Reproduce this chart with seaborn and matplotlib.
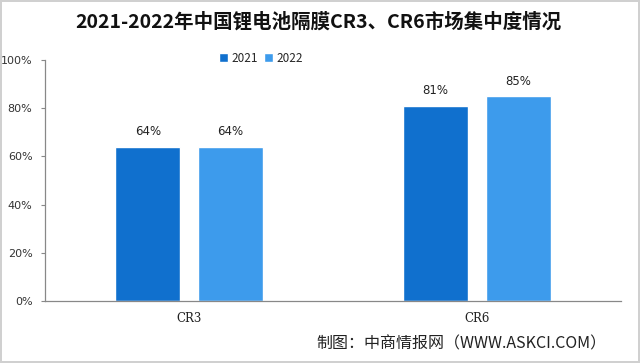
import matplotlib
matplotlib.use("Agg")
import matplotlib.pyplot as plt
import seaborn as sns
import pandas as pd
from matplotlib.ticker import FixedLocator

categories = ["CR3", "CR6"]
years = ["2021", "2022"]
values_2021 = [64, 81]
values_2022 = [64, 85]
yticks = [0, 20, 40, 60, 80, 100]
ytick_labels = ["0%", "20%", "40%", "60%", "80%", "100%"]
title = "2021-2022年中国锂电池隔膜CR3、CR6市场集中度情况"
source = "制图：中商情报网（WWW.ASKCI.COM）"
colors = ["#1070CE", "#3D9BEC"]

df = pd.DataFrame({
    "cat": categories * 2,
    "year": [years[0]] * 2 + [years[1]] * 2,
    "val": values_2021 + values_2022,
})

sns.set_theme(style="white")
plt.rcParams["font.family"] = ["Noto Sans CJK SC", "DejaVu Sans"]

fig = plt.figure(figsize=(6.4, 3.63), dpi=100)
fig.patch.set_edgecolor("#d0d0d0")
fig.patch.set_linewidth(1.5)
ax = fig.add_axes([45 / 640, 1 - 301 / 363, 576 / 640, 241 / 363])

sns.barplot(data=df, x="cat", y="val", hue="year", palette=colors,
            width=0.573, gap=0.21, ax=ax, saturation=1, legend=True)

for cont in ax.containers:
    ax.bar_label(cont, labels=[f"{v:.0f}%" for v in cont.datavalues],
                 padding=6, fontsize=8.5, family=["DejaVu Sans"], color="#222222")

ax.set_xlim(-0.5, 1.5)
ax.set_ylim(0, 100)
ax.set_yticks(yticks)
ax.set_yticklabels(ytick_labels, fontsize=8, family=["DejaVu Sans"], color="#333333")
ax.set_xticks([0, 1])
ax.set_xticklabels(categories, fontsize=8.5, family=["DejaVu Serif"], color="#222222")
ax.tick_params(axis="x", length=0, pad=8)
ax.xaxis.set_minor_locator(FixedLocator([-0.5, 0.5, 1.5]))
ax.tick_params(axis="x", which="minor", direction="in", length=3, color="#888888", width=0.8)
ax.tick_params(axis="y", length=3, color="#888888", width=0.8, pad=6, left=True)
ax.set_xlabel("")
ax.set_ylabel("")
for s in ["top", "right"]:
    ax.spines[s].set_visible(False)
for s in ["left", "bottom"]:
    ax.spines[s].set_color("#888888")
    ax.spines[s].set_linewidth(0.9)

leg = ax.legend(loc="center", bbox_to_anchor=((261 - 45) / 576, (301 - 58) / 241),
                ncol=2, frameon=False, fontsize=8.5, handlelength=0.8, handleheight=0.8,
                handletextpad=0.3, columnspacing=0.5, borderaxespad=0, borderpad=0)

fig.text(318 / 640, 1 - 22 / 363, title, ha="center", va="center", fontsize=14,
         fontweight="bold", color="#111111")
fig.text(606 / 640, 1 - 344 / 363, source, ha="right", va="center", fontsize=11.5,
         color="#222222")

fig.savefig("out.png", dpi=100, edgecolor=fig.get_edgecolor())
